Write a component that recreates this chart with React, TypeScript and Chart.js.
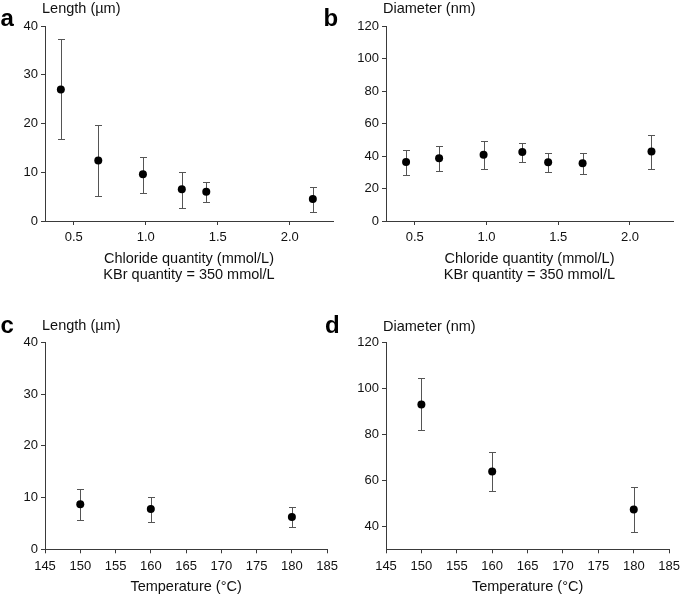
import React, { useEffect, useRef } from "react";
import { Chart, registerables } from "chart.js";

Chart.register(...registerables);

// ---------- data ----------
// Panel a: length vs chloride quantity
const chlorideA = [0.41, 0.67, 0.98, 1.25, 1.42, 2.16];
const lengthA = [27.0, 12.4, 9.6, 6.5, 6.0, 4.5];
const lengthALow = [16.8, 5.1, 5.8, 2.7, 3.8, 1.9];
const lengthAHigh = [37.3, 19.7, 13.2, 10.0, 8.0, 6.9];

// Panel b: diameter vs chloride quantity
const chlorideB = [0.44, 0.67, 0.98, 1.25, 1.43, 1.67, 2.15];
const diameterB = [36.3, 38.6, 40.8, 42.5, 36.1, 35.5, 42.7];
const diameterBLow = [28.3, 30.6, 32.2, 36.3, 30.0, 28.9, 32.2];
const diameterBHigh = [43.7, 46.3, 49.0, 48.2, 41.7, 42.0, 52.7];

// Panel c: length vs temperature
const temperatureC = [150, 160, 180];
const lengthC = [8.7, 7.8, 6.25];
const lengthCLow = [5.6, 5.35, 4.3];
const lengthCHigh = [11.66, 10.2, 8.1];

// Panel d: diameter vs temperature
const temperatureD = [150, 160, 180];
const diameterD = [93.0, 63.8, 47.3];
const diameterDLow = [81.7, 55.4, 37.7];
const diameterDHigh = [104.5, 72.4, 57.0];

// tick labels
const chlorideTicks = [0.5, 1.0, 1.5, 2.0];
const diameterTicksD = [40, 60, 80, 100, 120];

// text
const chlorideTitle = ["Chloride quantity (mmol/L)", "KBr quantity = 350 mmol/L"];
const temperatureTitle = "Temperature (°C)";
const lengthTitle = "Length (µm)";
const diameterTitle = "Diameter (nm)";

// ---------- styles ----------
const FONT = "'Liberation Sans', Arial, Helvetica, sans-serif";
const AXIS = "#3a3a3a";
const TEXT = "#111111";
const ERR = "#555555";

type Panel = {
  letter: string;
  left: number;
  top: number;
  w: number;
  h: number;
  padTop: number;
  padRight: number;
  yW: number;
  xH: number;
  xs: number[];
  ys: number[];
  lows: number[];
  highs: number[];
  xMin: number;
  xMax: number;
  xStep?: number;
  xTicks?: number[];
  xDecimals: number;
  yMin: number;
  yMax: number;
  yStep?: number;
  yTicks?: number[];
  xTitle: string | string[];
  xTitlePadBottom: number;
  yTitle: string;
  yTitleBaseline: number;
  letterX: number;
  letterBaseline: number;
};

const panels: Panel[] = [
  {
    letter: "a", left: 0, top: 0, w: 342, h: 298, padTop: 26, padRight: 9, yW: 45, xH: 77,
    xs: chlorideA, ys: lengthA, lows: lengthALow, highs: lengthAHigh,
    xMin: 0.3, xMax: 2.3, xTicks: chlorideTicks, xDecimals: 1,
    yMin: 0, yMax: 40, yStep: 10,
    xTitle: chlorideTitle, xTitlePadBottom: 14.4,
    yTitle: lengthTitle, yTitleBaseline: 13, letterX: 0.5, letterBaseline: 26,
  },
  {
    letter: "b", left: 342, top: 0, w: 343, h: 298, padTop: 26, padRight: 12, yW: 44, xH: 77,
    xs: chlorideB, ys: diameterB, lows: diameterBLow, highs: diameterBHigh,
    xMin: 0.3, xMax: 2.3, xTicks: chlorideTicks, xDecimals: 1,
    yMin: 0, yMax: 120, yStep: 20,
    xTitle: chlorideTitle, xTitlePadBottom: 14.4,
    yTitle: diameterTitle, yTitleBaseline: 13.3, letterX: 323.5, letterBaseline: 26.5,
  },
  {
    letter: "c", left: 0, top: 298, w: 343, h: 299, padTop: 44.3, padRight: 10, yW: 45, xH: 47.7,
    xs: temperatureC, ys: lengthC, lows: lengthCLow, highs: lengthCHigh,
    xMin: 145, xMax: 185, xStep: 5, xDecimals: 0,
    yMin: 0, yMax: 40, yStep: 10,
    xTitle: temperatureTitle, xTitlePadBottom: 1.5,
    yTitle: lengthTitle, yTitleBaseline: 32, letterX: 0.5, letterBaseline: 333,
  },
  {
    letter: "d", left: 342, top: 298, w: 343, h: 299, padTop: 44.3, padRight: 12, yW: 44, xH: 47.7,
    xs: temperatureD, ys: diameterD, lows: diameterDLow, highs: diameterDHigh,
    xMin: 145, xMax: 185, xStep: 5, xDecimals: 0,
    yMin: 30, yMax: 120, yTicks: diameterTicksD,
    xTitle: temperatureTitle, xTitlePadBottom: 1.5,
    yTitle: diameterTitle, yTitleBaseline: 32.7, letterX: 325, letterBaseline: 333,
  },
];

function makeErrorPlugin(p: Panel) {
  return {
    id: "errorBars",
    beforeDatasetsDraw(chart: any) {
      const { ctx, scales } = chart;
      const x = scales.x;
      const y = scales.y;
      const cap = 3.5;
      ctx.save();
      ctx.strokeStyle = ERR;
      ctx.lineWidth = 1;
      p.xs.forEach((xv, i) => {
        const px = Math.round(x.getPixelForValue(xv)) + 0.5;
        const pLo = Math.round(y.getPixelForValue(p.lows[i])) + 0.5;
        const pHi = Math.round(y.getPixelForValue(p.highs[i])) + 0.5;
        ctx.beginPath();
        ctx.moveTo(px, pLo);
        ctx.lineTo(px, pHi);
        ctx.moveTo(px - cap, pLo);
        ctx.lineTo(px + cap, pLo);
        ctx.moveTo(px - cap, pHi);
        ctx.lineTo(px + cap, pHi);
        ctx.stroke();
      });
      ctx.restore();
    },
  };
}

function makeTopTitlePlugin(p: Panel) {
  return {
    id: "topTitle",
    afterDraw(chart: any) {
      const { ctx, chartArea } = chart;
      ctx.save();
      ctx.font = `14.5px ${FONT}`;
      ctx.fillStyle = TEXT;
      ctx.textAlign = "left";
      ctx.textBaseline = "alphabetic";
      ctx.fillText(p.yTitle, chartArea.left - 3, p.yTitleBaseline);
      ctx.restore();
    },
  };
}

function PanelChart({ p }: { p: Panel }) {
  const ref = useRef<HTMLCanvasElement | null>(null);
  useEffect(() => {
    if (!ref.current) return;
    const chart = new Chart(ref.current, {
      type: "scatter",
      data: {
        datasets: [
          {
            data: p.xs.map((xv, i) => ({ x: xv, y: p.ys[i] })),
            backgroundColor: "#000000",
            borderColor: "#000000",
            pointRadius: 4,
            pointBorderWidth: 0,
            pointHoverRadius: 4,
          },
        ],
      },
      options: {
        responsive: false,
        maintainAspectRatio: false,
        animation: false,
        events: [],
        layout: { padding: { left: 0, right: p.padRight, top: p.padTop, bottom: 0 } },
        plugins: {
          legend: { display: false },
          tooltip: { enabled: false },
          title: { display: false },
        },
        scales: {
          x: {
            type: "linear",
            min: p.xMin,
            max: p.xMax,
            border: { display: true, color: AXIS, width: 1 },
            grid: { drawOnChartArea: false, drawTicks: true, tickLength: 4, color: AXIS },
            ticks: {
              stepSize: p.xStep,
              color: TEXT,
              padding: 5,
              maxRotation: 0,
              autoSkip: false,
              font: { family: FONT, size: 13 },
              callback: (v: any) => Number(v).toFixed(p.xDecimals),
            },
            title: {
              display: true,
              text: p.xTitle,
              color: TEXT,
              font: { family: FONT, size: 14.5, lineHeight: 1.15 },
              padding: { top: 0, bottom: p.xTitlePadBottom },
            },
            afterBuildTicks: p.xTicks
              ? (s: any) => {
                  s.ticks = (p.xTicks as number[]).map((v) => ({ value: v }));
                }
              : undefined,
            afterFit: (s: any) => {
              s.height = p.xH;
            },
          },
          y: {
            type: "linear",
            min: p.yMin,
            max: p.yMax,
            border: { display: true, color: AXIS, width: 1 },
            grid: { drawOnChartArea: false, drawTicks: true, tickLength: 4, color: AXIS },
            ticks: {
              stepSize: p.yStep,
              color: TEXT,
              padding: 3,
              autoSkip: false,
              font: { family: FONT, size: 13 },
            },
            afterBuildTicks: p.yTicks
              ? (s: any) => {
                  s.ticks = (p.yTicks as number[]).map((v) => ({ value: v }));
                }
              : undefined,
            afterFit: (s: any) => {
              s.width = p.yW;
            },
          },
        },
      } as any,
      plugins: [makeErrorPlugin(p), makeTopTitlePlugin(p)],
    });
    return () => chart.destroy();
  }, [p]);
  return (
    <canvas
      ref={ref}
      width={p.w}
      height={p.h}
      style={{ position: "absolute", left: p.left, top: p.top, width: p.w, height: p.h }}
    />
  );
}

export default function App() {
  return (
    <div
      style={{
        position: "absolute",
        left: 0,
        top: 0,
        width: 685,
        height: 597,
        background: "#ffffff",
        overflow: "hidden",
      }}
    >
      {panels.map((p) => (
        <PanelChart key={p.letter} p={p} />
      ))}
      {panels.map((p) => (
        <div
          key={"l" + p.letter}
          style={{
            position: "absolute",
            left: p.letterX,
            top: p.letterBaseline - 20.3,
            fontFamily: FONT,
            fontWeight: 700,
            fontSize: 24,
            lineHeight: 1,
            color: "#000",
          }}
        >
          {p.letter}
        </div>
      ))}
    </div>
  );
}
